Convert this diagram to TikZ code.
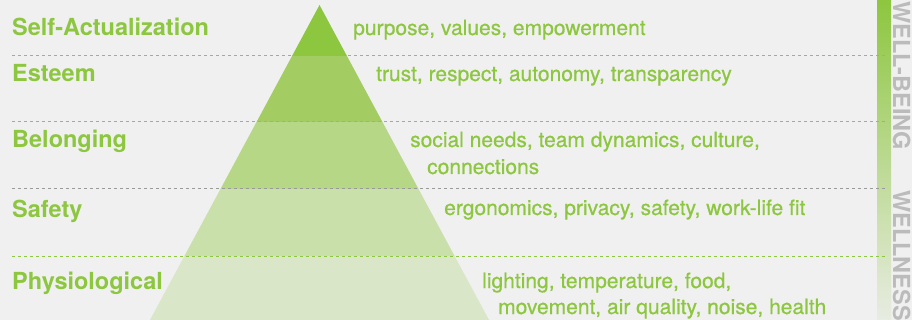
\documentclass[tikz,border=0pt]{standalone}
\usepackage{fontspec}
\setmainfont{TeX Gyre Heros}
\newfontfamily\descfont[FakeBold=0.6]{TeX Gyre Heros}
\definecolor{bg}{HTML}{F0F0F0}
\definecolor{gr}{HTML}{8DC63F}
\definecolor{bandA}{HTML}{8DC63F}
\definecolor{bandB}{HTML}{A3CC62}
\definecolor{bandC}{HTML}{B6D886}
\definecolor{bandD}{HTML}{C9E0AA}
\definecolor{bandE}{HTML}{DAE6C8}
\definecolor{dashgray}{HTML}{9A9A9A}
\definecolor{vtext}{HTML}{BBBBBB}
\definecolor{barbot}{HTML}{E8ECE2}
\tikzset{
  lvl/.style={anchor=base west, inner sep=0pt, text=gr, font=\fontsize{23.5}{26}\selectfont\bfseries},
  desc/.style={anchor=base west, inner sep=0pt, text=gr, font=\fontsize{21}{24}\descfont},
  sep/.style={line width=1pt, dash pattern=on 3pt off 3pt},
  vlab/.style={rotate=-90, anchor=base west, inner sep=0pt, text=vtext, font=\fontsize{23.5}{26}\selectfont\bfseries}
}
\begin{document}
\begin{tikzpicture}[x=1pt,y=-1pt]
\fill[bg] (0,0) rectangle (912,320);
\useasboundingbox (0,0) rectangle (912,320);
% pyramid bands
\begin{scope}
\clip (319.5,5) -- (489,320) -- (150,320) -- cycle;
\fill[bandA] (100,0) rectangle (560,56);
\fill[bandB] (100,56) rectangle (560,122);
\fill[bandC] (100,122) rectangle (560,189);
\fill[bandD] (100,189) rectangle (560,256);
\fill[bandE] (100,256) rectangle (560,321);
\end{scope}
% side bar
\shade[top color=gr, bottom color=barbot] (877,0) rectangle (891,320);
% separators
\coordinate (l1a) at (12,56);  \coordinate (l1b) at (886,56);
\coordinate (l2a) at (12,122); \coordinate (l2b) at (886,122);
\coordinate (l3a) at (12,189); \coordinate (l3b) at (886,189);
\coordinate (l4a) at (12,256); \coordinate (l4b) at (886,256);
\draw[sep, gr] (l1a) -- (l1b);
\draw[sep, gr] (l2a) -- (l2b);
\draw[sep, dashgray] (l3a) -- (l3b);
\draw[sep, gr] (l4a) -- (l4b);
% level labels
\node[lvl] (sa) at (12,36) {Self-Actualization};
\node[lvl] (es) at (12,82) {Esteem};
\node[lvl] (be) at (12,148) {Belonging};
\node[lvl] (sf) at (12,218) {Safety};
\node[lvl] (ph) at (12,289) {Physiological};
% descriptions
\node[desc] (dsa) at (353,35) {purpose, values, empowerment};
\node[desc] (des) at (376,81) {trust, respect, autonomy, transparency};
\node[desc] (dbe1) at (410,147) {social needs, team dynamics, culture,};
\node[desc] (dbe2) at (427,174) {connections};
\node[desc] (dsf) at (444,215) {ergonomics, privacy, safety, work-life fit};
\node[desc] (dph1) at (482,288) {lighting, temperature, food,};
\node[desc] (dph2) at (498,314) {movement, air quality, noise, health};
% vertical labels
\node[vlab] (wb) at (893,1) {WELL-BEING};
\node[vlab] (wn) at (893,190) {WELLNESS};
\end{tikzpicture}
\end{document}
